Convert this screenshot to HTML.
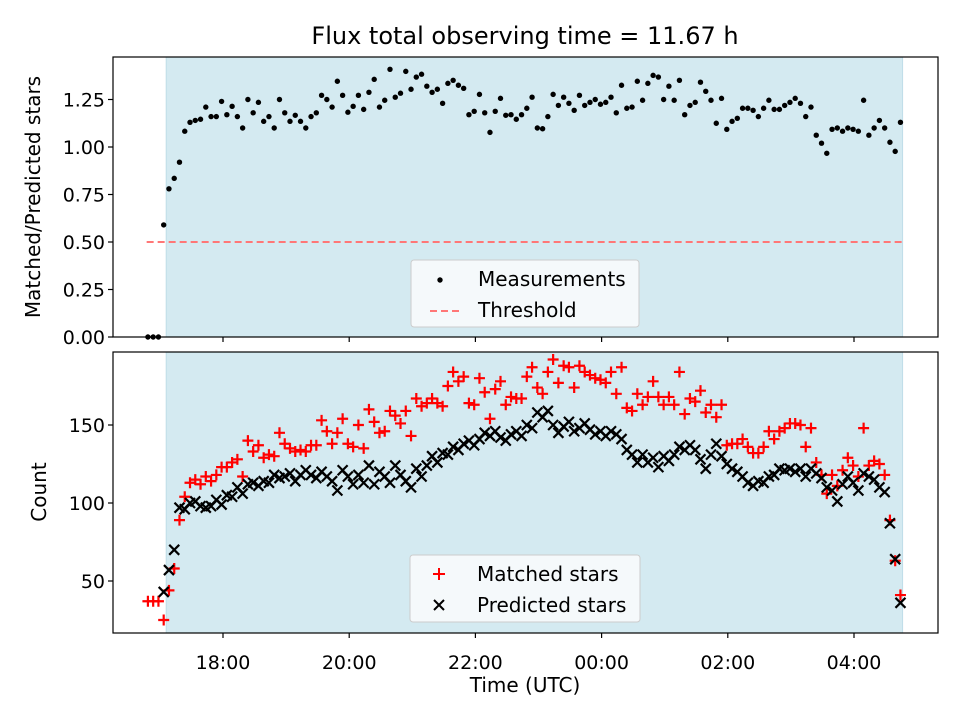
<!DOCTYPE html>
<html><head><meta charset="utf-8"><style>
html,body{margin:0;padding:0;background:#fff;}
svg{display:block;font-family:"DejaVu Sans","Liberation Sans",sans-serif;}
</style></head><body>
<svg id="chart" width="960" height="720" viewBox="0 0 960 720">
<text x="525" y="44" font-size="24" text-anchor="middle" fill="#000">Flux total observing time = 11.67 h</text>
<text transform="translate(40,197) rotate(-90)" font-size="20" text-anchor="middle">Matched/Predicted stars</text>
<text transform="translate(46,492) rotate(-90)" font-size="20" text-anchor="middle">Count</text>
<text x="525" y="692" font-size="20" text-anchor="middle">Time (UTC)</text>
<g id="top"></g>
<g id="bot"></g>
</svg>
<script>
const startHour = 16.81;
const stepHours = 0.0834;
const shadeStart = 17.1;
const shadeEnd = 28.77;
const threshold = 0.5;
const xTickHours = [18, 20, 22, 24, 26, 28];
const xTickLabels = ["18:00","20:00","22:00","00:00","02:00","04:00"];
const topTicks = [0, 0.25, 0.5, 0.75, 1.0, 1.25];
const topTickLabels = ["0.00","0.25","0.50","0.75","1.00","1.25"];
const botTicks = [50, 100, 150];
const botTickLabels = ["50","100","150"];
const ratio = [0,0,0,0.59,0.78,0.835,0.92,1.083,1.13,1.14,1.146,1.21,1.16,1.16,1.24,1.17,1.214,1.16,1.10,1.25,1.18,1.235,1.135,1.16,1.10,1.25,1.18,1.135,1.167,1.135,1.10,1.16,1.18,1.272,1.25,1.21,1.346,1.272,1.183,1.214,1.272,1.198,1.288,1.356,1.21,1.246,1.409,1.262,1.283,1.398,1.304,1.368,1.383,1.32,1.288,1.304,1.23,1.335,1.351,1.325,1.309,1.17,1.188,1.277,1.18,1.077,1.188,1.256,1.167,1.17,1.146,1.17,1.204,1.262,1.10,1.096,1.16,1.277,1.219,1.262,1.23,1.193,1.272,1.219,1.235,1.25,1.225,1.235,1.262,1.18,1.325,1.204,1.21,1.346,1.246,1.335,1.377,1.368,1.25,1.32,1.246,1.351,1.17,1.219,1.235,1.341,1.293,1.246,1.125,1.256,1.093,1.135,1.151,1.204,1.204,1.193,1.16,1.204,1.246,1.198,1.198,1.219,1.235,1.256,1.23,1.16,1.21,1.062,1.02,0.967,1.093,1.10,1.083,1.10,1.093,1.083,1.246,1.062,1.10,1.14,1.10,1.025,0.977,1.13];
const predicted = [null,null,null,43,57,70,97,96,100,101,98,97,98,102,99,105,104,110,106,112,113,111,114,113,118,116,117,119,114,118,121,118,116,120,117,114,108,121,117,112,118,113,124,112,120,117,113,124,118,114,110,122,117,124,130,126,132,131,136,134,138,140,137,141,145,143,146,142,140,144,146,143,150,148,158,155,159,150,145,149,152,146,148,151,147,144,146,143,146,144,141,134,131,126,131,126,129,123,130,127,131,136,134,137,134,128,122,131,138,130,125,122,120,117,113,111,114,113,117,118,122,121,122,120,122,117,122,119,116,110,108,101,112,117,113,108,119,117,115,110,107,87,64,36];
const matched = [37,37,37,25,44,58,89,104,113,115,112,117,114,118,123,123,126,128,117,140,133,137,129,131,130,145,138,135,133,134,133,137,137,153,146,138,145,154,138,136,150,135,160,152,145,146,159,156,151,159,143,167,162,164,167,164,162,175,184,178,181,164,163,180,171,154,173,178,163,168,167,167,181,187,174,170,184,192,177,188,187,174,188,184,182,180,179,177,184,170,187,161,159,170,163,168,178,168,163,168,163,184,157,167,165,172,158,163,155,163,137,138,138,141,136,132,132,136,146,141,146,148,151,151,150,136,148,126,118,106,118,111,121,129,124,117,148,124,127,125,118,89,63,41];

const NS = "http://www.w3.org/2000/svg";
function mk(tag, attrs, parent){const e=document.createElementNS(NS,tag);for(const k in attrs)e.setAttribute(k,attrs[k]);parent.appendChild(e);return e;}
const L=113,R=938;
const xs = h => 223 + (h-18)*63.1;
const tHour = i => startHour + i*stepHours;
const P1={top:57,bot:337}, P2={top:352,bot:633};
const y1 = v => 337 - v*190;
const y2 = v => 659 - v*1.56;

function panel(g,P,ticks,labels,ys,showX){
  const s=mk('rect',{x:xs(shadeStart),y:P.top,width:xs(shadeEnd)-xs(shadeStart),height:P.bot-P.top,fill:'#d4eaf1',stroke:'#bfdde8','stroke-width':1},g);
  
  
  ticks.forEach((t,k)=>{
    const y=ys(t);
    mk('line',{x1:L-5,x2:L,y1:y,y2:y,stroke:'#000','stroke-width':1.2},g);
    const tx=mk('text',{x:L-8,y:y+7,'font-size':19,'text-anchor':'end'},g);
    tx.textContent=labels[k];
    
    
  });
  xTickHours.forEach((h,k)=>{
    const x=xs(h);
    mk('line',{x1:x,x2:x,y1:P.bot,y2:P.bot+5,stroke:'#000','stroke-width':1.2},g);
    if(showX){
      const tx=mk('text',{x:x,y:P.bot+36,'font-size':19,'text-anchor':'middle'},g);
      tx.textContent=xTickLabels[k];
      
      
    }
  });
}
const gt=document.getElementById('top'), gb=document.getElementById('bot');
panel(gt,P1,topTicks,topTickLabels,y1,false);
panel(gb,P2,botTicks,botTickLabels,y2,true);

const th=mk('line',{x1:xs(startHour-0.02),x2:xs(shadeEnd),y1:y1(threshold),y2:y1(threshold),stroke:'#ff7777','stroke-width':2,'stroke-dasharray':'7,4'},gt);


ratio.forEach((v,i)=>{
  const c=mk('circle',{cx:xs(tHour(i)),cy:y1(v),r:2.7,fill:'#000'},gt);
  
  
});
matched.forEach((v,i)=>{
  if(v==null)return;
  const x=xs(tHour(i)),y=y2(v),s=5.5;
  const p=mk('path',{d:`M${x-s},${y}H${x+s}M${x},${y-s}V${y+s}`,stroke:'#ff0000','stroke-width':2.2,fill:'none'},gb);
  
  
});
predicted.forEach((v,i)=>{
  if(v==null)return;
  const x=xs(tHour(i)),y=y2(v),s=5;
  const p=mk('path',{d:`M${x-s},${y-s}L${x+s},${y+s}M${x-s},${y+s}L${x+s},${y-s}`,stroke:'#000','stroke-width':2.2,fill:'none'},gb);
  
  
});
[[gt,P1],[gb,P2]].forEach(([g,P])=>{
  const f=mk('rect',{x:L,y:P.top,width:R-L,height:P.bot-P.top,fill:'none',stroke:'#000','stroke-width':1.2},g);
  
  
});
function legend(g,x,y,w,h,items){
  const lg=mk('g',{},g);
  
  
  mk('rect',{x:x,y:y,width:w,height:h,rx:3,fill:'#f5f9fb',stroke:'#cccccc','stroke-width':1},lg);
  items.forEach((it,k)=>{
    const cy=y+17+k*31;
    const e=mk('g',{},lg);
    
    
    it.draw(e,x+29,cy);
    const t=mk('text',{x:x+67,y:cy+9,'font-size':20},e);
    t.textContent=it.label;
  });
}
legend(gt,411,260,228,67,[
  {label:'Measurements',draw:(e,x,y)=>mk('circle',{cx:x,cy:y+3,r:2.7,fill:'#000'},e)},
  {label:'Threshold',draw:(e,x,y)=>mk('line',{x1:x-10,x2:x+22,y1:y+3,y2:y+3,stroke:'#ff7777','stroke-width':2,'stroke-dasharray':'7,4'},e)}
]);
legend(gb,410,555,230,67,[
  {label:'Matched stars',draw:(e,x,y)=>mk('path',{d:`M${x-6},${y+2}H${x+6}M${x},${y-4}V${y+8}`,stroke:'#f00','stroke-width':2,fill:'none'},e)},
  {label:'Predicted stars',draw:(e,x,y)=>mk('path',{d:`M${x-5},${y-3}L${x+5},${y+7}M${x-5},${y+7}L${x+5},${y-3}`,stroke:'#000','stroke-width':2,fill:'none'},e)}
]);
</script>
</body></html>
